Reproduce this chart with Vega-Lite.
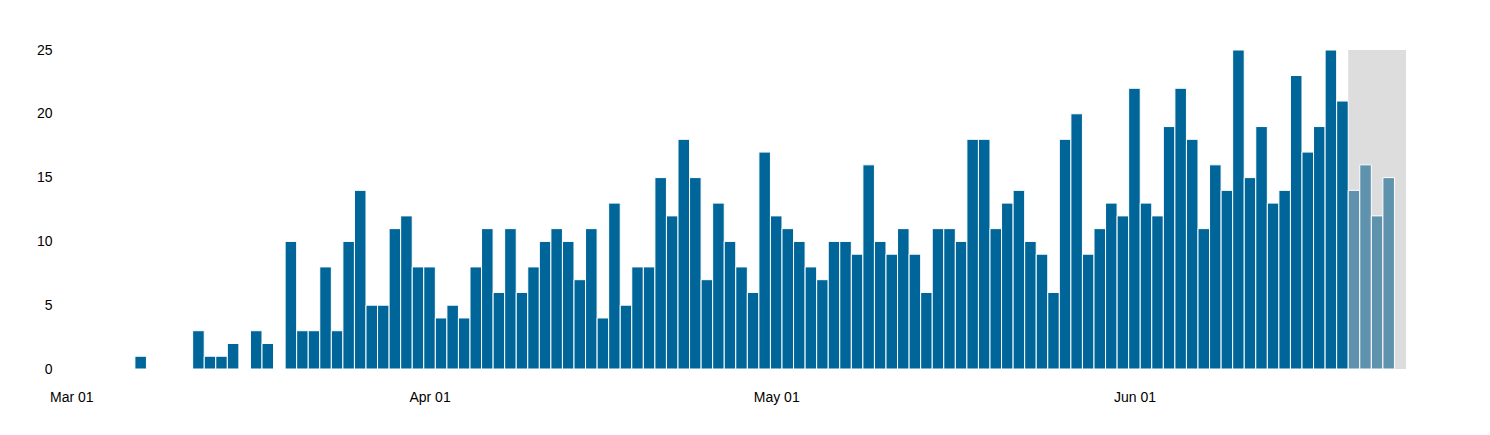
{
  "$schema": "https://vega.github.io/schema/vega-lite/v6.json",
  "width": 1352,
  "height": 319,
  "autosize": "none",
  "padding": {"left": 54, "top": 50, "right": 84, "bottom": 66},
  "background": "white",
  "config": {
    "view": {"stroke": null},
    "font": "Liberation Sans"
  },
  "datasets": {
    "daily": [
      {"date": "2020-03-01T00:00:00", "count": 0, "status": "final"},
      {"date": "2020-03-02T00:00:00", "count": 0, "status": "final"},
      {"date": "2020-03-03T00:00:00", "count": 0, "status": "final"},
      {"date": "2020-03-04T00:00:00", "count": 0, "status": "final"},
      {"date": "2020-03-05T00:00:00", "count": 0, "status": "final"},
      {"date": "2020-03-06T00:00:00", "count": 0, "status": "final"},
      {"date": "2020-03-07T00:00:00", "count": 1, "status": "final"},
      {"date": "2020-03-08T00:00:00", "count": 0, "status": "final"},
      {"date": "2020-03-09T00:00:00", "count": 0, "status": "final"},
      {"date": "2020-03-10T00:00:00", "count": 0, "status": "final"},
      {"date": "2020-03-11T00:00:00", "count": 0, "status": "final"},
      {"date": "2020-03-12T00:00:00", "count": 3, "status": "final"},
      {"date": "2020-03-13T00:00:00", "count": 1, "status": "final"},
      {"date": "2020-03-14T00:00:00", "count": 1, "status": "final"},
      {"date": "2020-03-15T00:00:00", "count": 2, "status": "final"},
      {"date": "2020-03-16T00:00:00", "count": 0, "status": "final"},
      {"date": "2020-03-17T00:00:00", "count": 3, "status": "final"},
      {"date": "2020-03-18T00:00:00", "count": 2, "status": "final"},
      {"date": "2020-03-19T00:00:00", "count": 0, "status": "final"},
      {"date": "2020-03-20T00:00:00", "count": 10, "status": "final"},
      {"date": "2020-03-21T00:00:00", "count": 3, "status": "final"},
      {"date": "2020-03-22T00:00:00", "count": 3, "status": "final"},
      {"date": "2020-03-23T00:00:00", "count": 8, "status": "final"},
      {"date": "2020-03-24T00:00:00", "count": 3, "status": "final"},
      {"date": "2020-03-25T00:00:00", "count": 10, "status": "final"},
      {"date": "2020-03-26T00:00:00", "count": 14, "status": "final"},
      {"date": "2020-03-27T00:00:00", "count": 5, "status": "final"},
      {"date": "2020-03-28T00:00:00", "count": 5, "status": "final"},
      {"date": "2020-03-29T00:00:00", "count": 11, "status": "final"},
      {"date": "2020-03-30T00:00:00", "count": 12, "status": "final"},
      {"date": "2020-03-31T00:00:00", "count": 8, "status": "final"},
      {"date": "2020-04-01T00:00:00", "count": 8, "status": "final"},
      {"date": "2020-04-02T00:00:00", "count": 4, "status": "final"},
      {"date": "2020-04-03T00:00:00", "count": 5, "status": "final"},
      {"date": "2020-04-04T00:00:00", "count": 4, "status": "final"},
      {"date": "2020-04-05T00:00:00", "count": 8, "status": "final"},
      {"date": "2020-04-06T00:00:00", "count": 11, "status": "final"},
      {"date": "2020-04-07T00:00:00", "count": 6, "status": "final"},
      {"date": "2020-04-08T00:00:00", "count": 11, "status": "final"},
      {"date": "2020-04-09T00:00:00", "count": 6, "status": "final"},
      {"date": "2020-04-10T00:00:00", "count": 8, "status": "final"},
      {"date": "2020-04-11T00:00:00", "count": 10, "status": "final"},
      {"date": "2020-04-12T00:00:00", "count": 11, "status": "final"},
      {"date": "2020-04-13T00:00:00", "count": 10, "status": "final"},
      {"date": "2020-04-14T00:00:00", "count": 7, "status": "final"},
      {"date": "2020-04-15T00:00:00", "count": 11, "status": "final"},
      {"date": "2020-04-16T00:00:00", "count": 4, "status": "final"},
      {"date": "2020-04-17T00:00:00", "count": 13, "status": "final"},
      {"date": "2020-04-18T00:00:00", "count": 5, "status": "final"},
      {"date": "2020-04-19T00:00:00", "count": 8, "status": "final"},
      {"date": "2020-04-20T00:00:00", "count": 8, "status": "final"},
      {"date": "2020-04-21T00:00:00", "count": 15, "status": "final"},
      {"date": "2020-04-22T00:00:00", "count": 12, "status": "final"},
      {"date": "2020-04-23T00:00:00", "count": 18, "status": "final"},
      {"date": "2020-04-24T00:00:00", "count": 15, "status": "final"},
      {"date": "2020-04-25T00:00:00", "count": 7, "status": "final"},
      {"date": "2020-04-26T00:00:00", "count": 13, "status": "final"},
      {"date": "2020-04-27T00:00:00", "count": 10, "status": "final"},
      {"date": "2020-04-28T00:00:00", "count": 8, "status": "final"},
      {"date": "2020-04-29T00:00:00", "count": 6, "status": "final"},
      {"date": "2020-04-30T00:00:00", "count": 17, "status": "final"},
      {"date": "2020-05-01T00:00:00", "count": 12, "status": "final"},
      {"date": "2020-05-02T00:00:00", "count": 11, "status": "final"},
      {"date": "2020-05-03T00:00:00", "count": 10, "status": "final"},
      {"date": "2020-05-04T00:00:00", "count": 8, "status": "final"},
      {"date": "2020-05-05T00:00:00", "count": 7, "status": "final"},
      {"date": "2020-05-06T00:00:00", "count": 10, "status": "final"},
      {"date": "2020-05-07T00:00:00", "count": 10, "status": "final"},
      {"date": "2020-05-08T00:00:00", "count": 9, "status": "final"},
      {"date": "2020-05-09T00:00:00", "count": 16, "status": "final"},
      {"date": "2020-05-10T00:00:00", "count": 10, "status": "final"},
      {"date": "2020-05-11T00:00:00", "count": 9, "status": "final"},
      {"date": "2020-05-12T00:00:00", "count": 11, "status": "final"},
      {"date": "2020-05-13T00:00:00", "count": 9, "status": "final"},
      {"date": "2020-05-14T00:00:00", "count": 6, "status": "final"},
      {"date": "2020-05-15T00:00:00", "count": 11, "status": "final"},
      {"date": "2020-05-16T00:00:00", "count": 11, "status": "final"},
      {"date": "2020-05-17T00:00:00", "count": 10, "status": "final"},
      {"date": "2020-05-18T00:00:00", "count": 18, "status": "final"},
      {"date": "2020-05-19T00:00:00", "count": 18, "status": "final"},
      {"date": "2020-05-20T00:00:00", "count": 11, "status": "final"},
      {"date": "2020-05-21T00:00:00", "count": 13, "status": "final"},
      {"date": "2020-05-22T00:00:00", "count": 14, "status": "final"},
      {"date": "2020-05-23T00:00:00", "count": 10, "status": "final"},
      {"date": "2020-05-24T00:00:00", "count": 9, "status": "final"},
      {"date": "2020-05-25T00:00:00", "count": 6, "status": "final"},
      {"date": "2020-05-26T00:00:00", "count": 18, "status": "final"},
      {"date": "2020-05-27T00:00:00", "count": 20, "status": "final"},
      {"date": "2020-05-28T00:00:00", "count": 9, "status": "final"},
      {"date": "2020-05-29T00:00:00", "count": 11, "status": "final"},
      {"date": "2020-05-30T00:00:00", "count": 13, "status": "final"},
      {"date": "2020-05-31T00:00:00", "count": 12, "status": "final"},
      {"date": "2020-06-01T00:00:00", "count": 22, "status": "final"},
      {"date": "2020-06-02T00:00:00", "count": 13, "status": "final"},
      {"date": "2020-06-03T00:00:00", "count": 12, "status": "final"},
      {"date": "2020-06-04T00:00:00", "count": 19, "status": "final"},
      {"date": "2020-06-05T00:00:00", "count": 22, "status": "final"},
      {"date": "2020-06-06T00:00:00", "count": 18, "status": "final"},
      {"date": "2020-06-07T00:00:00", "count": 11, "status": "final"},
      {"date": "2020-06-08T00:00:00", "count": 16, "status": "final"},
      {"date": "2020-06-09T00:00:00", "count": 14, "status": "final"},
      {"date": "2020-06-10T00:00:00", "count": 25, "status": "final"},
      {"date": "2020-06-11T00:00:00", "count": 15, "status": "final"},
      {"date": "2020-06-12T00:00:00", "count": 19, "status": "final"},
      {"date": "2020-06-13T00:00:00", "count": 13, "status": "final"},
      {"date": "2020-06-14T00:00:00", "count": 14, "status": "final"},
      {"date": "2020-06-15T00:00:00", "count": 23, "status": "final"},
      {"date": "2020-06-16T00:00:00", "count": 17, "status": "final"},
      {"date": "2020-06-17T00:00:00", "count": 19, "status": "final"},
      {"date": "2020-06-18T00:00:00", "count": 25, "status": "final"},
      {"date": "2020-06-19T00:00:00", "count": 21, "status": "final"},
      {"date": "2020-06-20T00:00:00", "count": 14, "status": "provisional"},
      {"date": "2020-06-21T00:00:00", "count": 16, "status": "provisional"},
      {"date": "2020-06-22T00:00:00", "count": 12, "status": "provisional"},
      {"date": "2020-06-23T00:00:00", "count": 15, "status": "provisional"}
    ],
    "recent": [
      {"start": "2020-06-19T12:00:00", "end": "2020-06-24T12:00:00"}
    ]
  },
  "layer": [
    {
      "data": {"name": "recent"},
      "mark": {"type": "rect", "color": "#dddddd"},
      "encoding": {
        "x": {"field": "start", "type": "temporal"},
        "x2": {"field": "end"},
        "y": {"datum": 25, "type": "quantitative"},
        "y2": {"datum": 0}
      }
    },
    {
      "data": {"name": "daily"},
      "mark": {"type": "bar", "width": 11.55, "stroke": "white", "strokeWidth": 1},
      "encoding": {
        "x": {
          "field": "date",
          "type": "temporal",
          "scale": {
            "padding": 0,
            "domain": [
              {"year": 2020, "month": 2, "date": 28, "hours": 12},
              {"year": 2020, "month": 6, "date": 24, "hours": 12}
            ]
          },
          "axis": {
            "title": null,
            "format": "%b %d",
            "tickCount": "month",
            "domain": false,
            "ticks": false,
            "grid": false,
            "labelFontSize": 14,
            "labelColor": "#000000",
            "labelPadding": 21
          }
        },
        "y": {
          "field": "count",
          "type": "quantitative",
          "scale": {"domain": [0, 25], "padding": 0, "nice": false},
          "axis": {
            "title": null,
            "values": [0, 5, 10, 15, 20, 25],
            "domain": false,
            "ticks": false,
            "grid": false,
            "labelFontSize": 14,
            "labelColor": "#000000"
          }
        },
        "color": {
          "field": "status",
          "type": "nominal",
          "scale": {"domain": ["final", "provisional"], "range": ["#006699", "#5f93ad"]},
          "legend": null
        }
      }
    }
  ]
}
